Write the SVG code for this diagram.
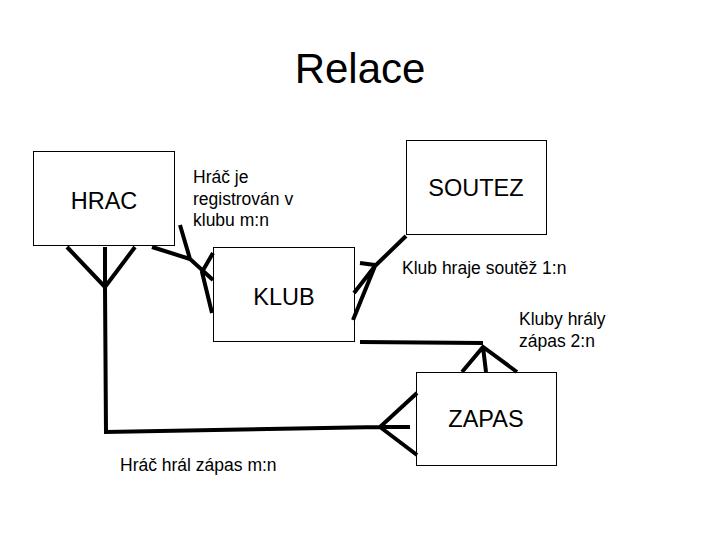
<svg xmlns="http://www.w3.org/2000/svg" width="720" height="540" viewBox="0 0 720 540">
<style>
.box{fill:#fff;stroke:#000;stroke-width:1}
.t{font-family:"Liberation Sans",Arial,sans-serif;fill:#000}
.n{font-size:23.5px;text-anchor:middle}
.l{font-size:17.5px}
.c{fill:none;stroke:#000;stroke-width:4;stroke-linecap:butt;stroke-linejoin:miter}
</style>
<rect width="720" height="540" fill="#fff"/>
<text class="t" x="360" y="83" font-size="42" text-anchor="middle">Relace</text>
<g id="HRAC">
<rect class="box" x="33.5" y="151.5" width="141" height="94"/>
<text class="t n" x="104" y="209">HRAC</text>
</g>
<g id="SOUTEZ">
<rect class="box" x="406.5" y="140.5" width="140" height="94"/>
<text class="t n" x="476" y="196">SOUTEZ</text>
</g>
<g id="KLUB">
<rect class="box" x="213.5" y="247.5" width="141" height="94"/>
<text class="t n" x="284" y="305">KLUB</text>
</g>
<g id="ZAPAS">
<rect class="box" x="416.5" y="372.5" width="140" height="93"/>
<text class="t n" x="486" y="427">ZAPAS</text>
</g>
<g id="labels">
<text class="t l" x="193" y="183">Hráč je</text>
<text class="t l" x="193" y="205">registrován v</text>
<text class="t l" x="193" y="226">klubu m:n</text>
<text class="t l" x="402" y="274">Klub hraje soutěž 1:n</text>
<text class="t l" x="519" y="325">Kluby hrály</text>
<text class="t l" x="519" y="347">zápas 2:n</text>
<text class="t l" x="120" y="471">Hráč hrál zápas m:n</text>
</g>
<g id="connectors">
<path class="c" d="M67 247 L105 287 M105 247 L105 287 M135 247 L105 287 M105 287 L106 432 L380 427 M417 393 L380 427 L410 427 M380 427 L417 455"/>
<path class="c" d="M152 247 L190 259 M180 225 L190 259 L213 280 M213 253 L202 272 L212 313"/>
<path class="c" d="M406 236 L375 266 L353 320 M360 263 L375 265 M375 266 L354 293"/>
<path class="c" d="M360 342 L483 343 M462 372 L483 347 L517 372 M483 347 L486 372"/>
</g>
</svg>
